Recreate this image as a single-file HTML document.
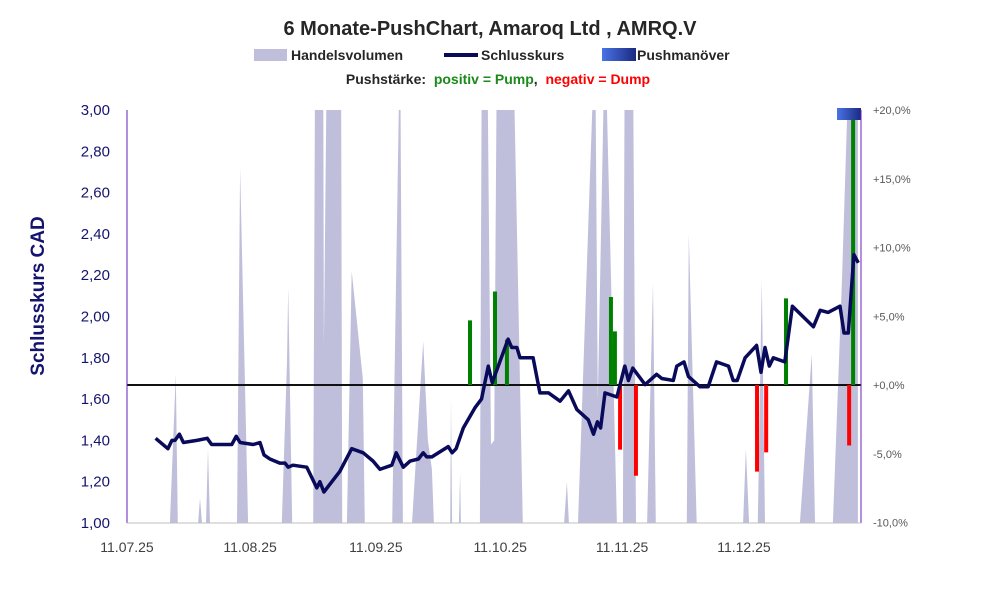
<!DOCTYPE html>
<html><head><meta charset="utf-8"><style>
body{margin:0;background:#fff;width:991px;height:587px;overflow:hidden;font-family:"Liberation Sans",sans-serif}
svg text{font-family:"Liberation Sans",sans-serif}
</style></head><body>
<svg id="c" width="991" height="587">
<defs><linearGradient id="pg" x1="0" x2="1"><stop offset="0" stop-color="#4a74e6"/><stop offset="1" stop-color="#1a2a80"/></linearGradient>
<clipPath id="pc"><rect x="127" y="110" width="734" height="413"/></clipPath></defs>
<text x="490" y="35" text-anchor="middle" font-size="20" font-weight="bold" fill="#262626">6 Monate-PushChart, Amaroq Ltd , AMRQ.V</text>
<g font-size="14" font-weight="bold" fill="#262626">
<rect x="254" y="49" width="33" height="12" fill="#bfbfdc"/>
<text x="291" y="60">Handelsvolumen</text>
<line x1="444" y1="55" x2="478" y2="55" stroke="#0a0a5a" stroke-width="4"/>
<text x="481" y="60">Schlusskurs</text>
<rect x="602" y="48" width="34" height="13" fill="url(#pg)"/>
<text x="637" y="60">Pushmanöver</text>
</g>
<text x="498" y="84" text-anchor="middle" font-size="14" font-weight="bold" xml:space="preserve"><tspan fill="#262626">Pushstärke:  </tspan><tspan fill="#1a8a1a">positiv = Pump</tspan><tspan fill="#262626">,  </tspan><tspan fill="#ff0000">negativ = Dump</tspan></text>
<text transform="translate(44,296) rotate(-90)" text-anchor="middle" font-size="19" font-weight="bold" fill="#14146e">Schlusskurs CAD</text>
<g id="plot" clip-path="url(#pc)"></g>
<g id="axes"></g>
</svg>
<script>
const priceDays=[7.2,10.3,11.3,12.1,13.2,14.2,17.6,20.2,21.3,26.4,27.5,28.5,31.8,33.5,34.5,36,38.5,39.8,40.6,41.8,45.3,47.8,48.6,49.6,53.6,56.6,59.5,62,63.7,66.7,67.8,69.6,71.3,73.4,74.6,75.5,76.8,80.9,81.9,82.9,84.7,87.7,89.3,91,92,96,96.9,98.2,99,102.3,104,106.2,109.1,111.2,113.3,116.2,117.5,118.5,119.3,120.4,123.4,125.4,126.3,127.4,130.5,133.4,134.7,137.6,138.5,140.3,141.4,144.3,146.4,148.5,151.5,152.7,153.7,155.7,158.6,159.7,160.7,161.8,162.8,165.7,167.6,172.9,174.6,176.6,179.6,180.6,181.7,183.1,184.2];
const priceValues=[1.41,1.36,1.40,1.40,1.43,1.39,1.40,1.41,1.38,1.38,1.42,1.39,1.38,1.39,1.33,1.31,1.29,1.29,1.27,1.28,1.27,1.17,1.20,1.15,1.25,1.36,1.34,1.30,1.26,1.28,1.34,1.27,1.30,1.31,1.34,1.32,1.32,1.37,1.34,1.36,1.46,1.56,1.60,1.76,1.68,1.89,1.85,1.85,1.80,1.80,1.63,1.63,1.59,1.64,1.55,1.50,1.43,1.49,1.46,1.63,1.61,1.76,1.69,1.75,1.67,1.72,1.70,1.69,1.76,1.78,1.71,1.66,1.66,1.78,1.76,1.69,1.69,1.80,1.86,1.73,1.85,1.76,1.80,1.78,2.05,1.95,2.03,2.02,2.05,1.92,1.92,2.30,2.26];
const volDays=[10.8,12.3,12.8,17.9,18.4,18.9,19.9,20.4,20.9,27.7,28.5,30.5,39,40.3,40.6,41.6,46.9,47.4,49.4,49.6,50.4,53.9,54.2,55.4,56.6,59.4,59.9,66.8,68.8,69.5,71.8,74.6,75.8,76.8,77.3,81.4,81.6,81.9,83.6,83.9,84.1,88.9,89.4,90.7,91.7,92.5,93.2,97.2,99.7,110.1,110.8,111.3,113.6,117.9,118.6,120.4,123.4,124.9,125.4,127.4,128.2,131,132.5,133.2,141,141.5,143.5,155.2,155.9,156.7,158.9,159.9,160.7,169.5,172.5,173.3,177.8,180.1,182.1,184.1];
const volValues=[0,36,0,0,6,0,0,18,0,0,86,0,0,39,57,0,0,120,120,43,120,120,0,0,61,35,0,0,120,0,0,44,20,13,0,0,30,0,0,12,0,0,120,120,19,20,120,120,0,0,10,0,0,120,30,120,0,0,120,120,0,0,58,0,0,70,0,0,18,0,0,59,0,0,41,0,0,59,120,120];
const pushDays=[86.4,92.7,95.7,121.9,122.9,166,182.9,124.2,128.2,158.7,161,181.9];
const pushValues=[4.7,6.8,3.3,6.4,3.9,6.3,19.3,-4.7,-6.6,-6.3,-4.9,-4.4];
const priceTicks=[1.0,1.2,1.4,1.6,1.8,2.0,2.2,2.4,2.6,2.8,3.0];
const pctTicks=[-10,-5,0,5,10,15,20];
const dateLabels=["11.07.25","11.08.25","11.09.25","11.10.25","11.11.25","11.12.25"];
const dateDays=[0,31,62.7,94,124.7,155.4];

const X=d=>127+d*3.97, Y=v=>523-(v-1)*206.5, P=p=>385-p*13.75, V=v=>523-v*4.13;
const NS="http://www.w3.org/2000/svg";
function mk(t,a,par){const e=document.createElementNS(NS,t);for(const k in a)e.setAttribute(k,a[k]);par.appendChild(e);return e;}
const plot=document.getElementById('plot'),axes=document.getElementById('axes');
let d="M"+X(volDays[0])+",523 ";
volDays.forEach((x,i)=>d+="L"+X(x).toFixed(1)+","+V(volValues[i]).toFixed(1)+" ");
d+="L"+X(volDays[volDays.length-1])+",523Z";
const va=mk('path',{d:d,fill:'#bfbfdc'},plot);


const zl=mk('line',{x1:127,x2:861,y1:P(0),y2:P(0),stroke:'#111',"stroke-width":2},plot);


pushDays.forEach((pd,i)=>{const v=pushValues[i];
 const r=mk('rect',{x:X(pd)-2,y:Math.min(P(v),P(0)),width:4,height:Math.abs(P(v)-P(0)),fill:v>0?'#008000':'#ff0000'},plot);
 
 });
const pl=mk('polyline',{points:priceDays.map((x,i)=>X(x).toFixed(1)+","+Y(priceValues[i]).toFixed(1)).join(" "),fill:'none',stroke:'#0a0a5a',"stroke-width":3.5,"stroke-linejoin":'round'},plot);


const pm=mk('rect',{x:837,y:108,width:24,height:12,fill:'url(#pg)'},axes);


mk('line',{x1:127,x2:127,y1:110,y2:523,stroke:'#6a1fc0',"stroke-width":1},axes);
mk('line',{x1:861,x2:861,y1:110,y2:523,stroke:'#6a1fc0',"stroke-width":1},axes);
mk('line',{x1:127,x2:861,y1:523,y2:523,stroke:'#bfbfbf',"stroke-width":1},axes);
priceTicks.forEach(v=>{const t=mk('text',{x:110,y:Y(v)+5,"text-anchor":'end',"font-size":15,fill:'#14146e'},axes);t.textContent=v.toFixed(2).replace('.',',');
 
 });
pctTicks.forEach(p=>{const t=mk('text',{x:873,y:P(p)+4,"font-size":11,fill:'#595959'},axes);t.textContent=(p>0?'+':p<0?'-':'+')+Math.abs(p).toFixed(1).replace('.',',')+'%';
 
 });
dateLabels.forEach((s,i)=>{const t=mk('text',{x:X(dateDays[i]),y:552,"text-anchor":'middle',"font-size":14,fill:'#404040'},axes);t.textContent=s;
 
 });
</script>
</body></html>
